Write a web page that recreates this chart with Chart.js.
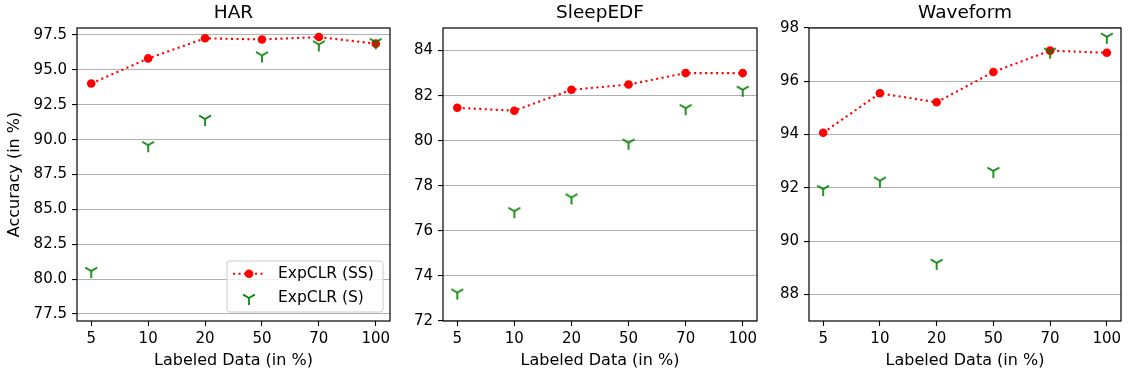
<!DOCTYPE html>
<html><head><meta charset="utf-8">
<script src="https://cdn.jsdelivr.net/npm/chart.js@4.4.0/dist/chart.umd.min.js"></script>
<style>
html,body{margin:0;padding:0;background:#fff;}
#wrap{position:relative;width:1129px;height:377px;overflow:hidden;background:#fff;}
canvas{position:absolute;top:0;}
</style></head><body>
<div id="wrap">
<canvas id="c0" width="398" height="377" style="left:0px"></canvas>
<canvas id="c1" width="365" height="377" style="left:400px"></canvas>
<canvas id="c2" width="363" height="377" style="left:766px"></canvas>
</div>
<script>
// ---- data ----
const categories = ['5', '10', '20', '50', '70', '100'];
const seriesNames = ['ExpCLR (SS)', 'ExpCLR (S)'];

const harSS = [94.02, 95.82, 97.26, 97.18, 97.35, 96.88];
const harS  = [80.58, 89.60, 91.48, 96.03, 96.82, 96.98];
const harTicks = [77.5, 80.0, 82.5, 85.0, 87.5, 90.0, 92.5, 95.0, 97.5];
const harTickLabels = ['77.5', '80.0', '82.5', '85.0', '87.5', '90.0', '92.5', '95.0', '97.5'];

const sleepSS = [81.46, 81.33, 82.26, 82.49, 83.00, 83.00];
const sleepS  = [73.26, 76.87, 77.48, 79.91, 81.44, 82.26];
const sleepTicks = [72, 74, 76, 78, 80, 82, 84];
const sleepTickLabels = ['72', '74', '76', '78', '80', '82', '84'];

const waveSS = [94.07, 95.55, 95.21, 96.35, 97.15, 97.07];
const waveS  = [91.95, 92.27, 89.18, 92.63, 97.11, 97.67];
const waveTicks = [88, 90, 92, 94, 96, 98];
const waveTickLabels = ['88', '90', '92', '94', '96', '98'];

// ---- styling helpers ----
const FAMILY = "'DejaVu Sans', sans-serif";
Chart.defaults.font.family = FAMILY;
Chart.defaults.font.size = 15;
Chart.defaults.color = '#000';

function makeTri(r, color, lw) {
  const size = 2 * Math.ceil(r + lw + 1);
  const c = document.createElement('canvas');
  c.width = size; c.height = size;
  const g = c.getContext('2d');
  const m = size / 2;
  g.strokeStyle = color; g.lineWidth = lw;
  g.beginPath();
  g.moveTo(m, m); g.lineTo(m, m + r);
  g.moveTo(m, m); g.lineTo(m - 0.866 * r, m - 0.5 * r);
  g.moveTo(m, m); g.lineTo(m + 0.866 * r, m - 0.5 * r);
  g.stroke();
  return c;
}
const triMarker = makeTri(6.9, '#008000', 1.7);
const DASH = [2.1, 3.4];

const framePlugin = {
  id: 'frame',
  afterDatasetsDraw(chart, args, opts) {
    const ca = chart.chartArea, ctx = chart.ctx;
    ctx.save();
    // panel title
    ctx.fillStyle = '#000';
    ctx.font = "18.5px " + FAMILY;
    ctx.textAlign = 'center';
    ctx.textBaseline = 'middle';
    ctx.fillText(opts.title, (ca.left + ca.right) / 2, 13.5);
    // frame
    ctx.strokeStyle = '#000';
    ctx.lineWidth = 1.2;
    ctx.strokeRect(ca.left, ca.top, ca.right - ca.left, ca.bottom - ca.top);
    // legend
    if (opts.legend) {
      const w = 156, h = 51;
      const x0 = ca.right - 7 - w, y0 = ca.bottom - 9 - h;
      const rr = 3;
      ctx.beginPath();
      ctx.moveTo(x0 + rr, y0);
      ctx.arcTo(x0 + w, y0, x0 + w, y0 + h, rr);
      ctx.arcTo(x0 + w, y0 + h, x0, y0 + h, rr);
      ctx.arcTo(x0, y0 + h, x0, y0, rr);
      ctx.arcTo(x0, y0, x0 + w, y0, rr);
      ctx.closePath();
      ctx.fillStyle = 'rgba(255,255,255,0.8)';
      ctx.fill();
      ctx.strokeStyle = '#cccccc';
      ctx.lineWidth = 1;
      ctx.stroke();
      const ds = chart.data.datasets;
      const rows = [y0 + 12.8, y0 + 36.8];
      ds.slice().sort((a, b) => a.legendIndex - b.legendIndex).forEach((d, i) => {
        const y = rows[i];
        const hx = x0 + 22;
        if (d.showLine) {
          ctx.save();
          ctx.strokeStyle = d.borderColor;
          ctx.lineWidth = d.borderWidth;
          ctx.setLineDash(d.borderDash);
          ctx.beginPath();
          ctx.moveTo(x0 + 6, y); ctx.lineTo(x0 + 37, y);
          ctx.stroke();
          ctx.restore();
          ctx.fillStyle = d.pointBackgroundColor;
          ctx.beginPath(); ctx.arc(hx, y, d.pointRadius, 0, Math.PI * 2); ctx.fill();
        } else {
          ctx.drawImage(triMarker, Math.round(hx - triMarker.width / 2), Math.round(y - triMarker.height / 2));
        }
        ctx.fillStyle = '#000';
        ctx.font = "15.5px " + FAMILY;
        ctx.textAlign = 'left';
        ctx.textBaseline = 'middle';
        ctx.fillText(d.label, x0 + 51, y + 0.5);
      });
    }
    ctx.restore();
  }
};

function makeChart(id, title, ss, s, yMin, yMax, yTicks, yTickLabels, yWidth, yTitle, legend, padRight) {
  const toPts = arr => arr.map((v, i) => ({ x: i, y: v }));
  return new Chart(document.getElementById(id), {
    type: 'scatter',
    data: {
      datasets: [
        {
          label: seriesNames[0], legendIndex: 0, data: toPts(ss), showLine: true,
          borderColor: '#ff0000', borderWidth: 2.1, borderDash: DASH,
          pointRadius: 4.3, pointBackgroundColor: '#ff0000', pointBorderWidth: 0,
          pointStyle: 'circle', order: 1
        },
        {
          label: seriesNames[1], legendIndex: 1, data: toPts(s), showLine: false,
          pointStyle: triMarker, pointRadius: 7, order: 0
        }
      ]
    },
    options: {
      responsive: false, animation: false, devicePixelRatio: 1,
      layout: { padding: { top: 28, right: padRight, bottom: 0, left: 0 } },
      plugins: { legend: { display: false }, tooltip: { enabled: false }, title: { display: false },
        frame: { title: title, legend: legend } },
      scales: {
        x: {
          type: 'linear', min: -0.25, max: 5.25,
          afterBuildTicks: sc => { sc.ticks = categories.map((c, i) => ({ value: i })); },
          afterFit: sc => { sc.height = 56; },
          ticks: { callback: (v) => categories[v], padding: 4, maxRotation: 0, autoSkip: false, font: { size: 15 } },
          grid: { drawOnChartArea: false, drawTicks: true, tickLength: 5, tickColor: '#000', tickWidth: 1.1 },
          border: { display: false },
          title: { display: true, text: 'Labeled Data (in %)', font: { size: 16 }, padding: { top: 0, bottom: 7 } }
        },
        y: {
          type: 'linear', min: yMin, max: yMax,
          afterBuildTicks: sc => { sc.ticks = yTicks.map(v => ({ value: v })); },
          afterFit: sc => { sc.width = yWidth; },
          ticks: { callback: (v) => yTickLabels[yTicks.indexOf(v)], padding: 5, autoSkip: false, font: { size: 15 } },
          grid: { color: '#b0b0b0', lineWidth: 1.1, drawTicks: true, tickLength: 5, tickColor: '#000', tickWidth: 1.1 },
          border: { display: false },
          title: { display: !!yTitle, text: yTitle || '', font: { size: 16 }, padding: { top: 5.4, bottom: 0 } }
        }
      }
    },
    plugins: [framePlugin]
  });
}

makeChart('c0', 'HAR', harSS, harS, 77, 98, harTicks, harTickLabels, 77, 'Accuracy (in %)', true, 8);
makeChart('c1', 'SleepEDF', sleepSS, sleepS, 72, 85, sleepTicks, sleepTickLabels, 43, null, false, 8);
makeChart('c2', 'Waveform', waveSS, waveS, 87, 98, waveTicks, waveTickLabels, 43, null, false, 7);
</script>
</body></html>
